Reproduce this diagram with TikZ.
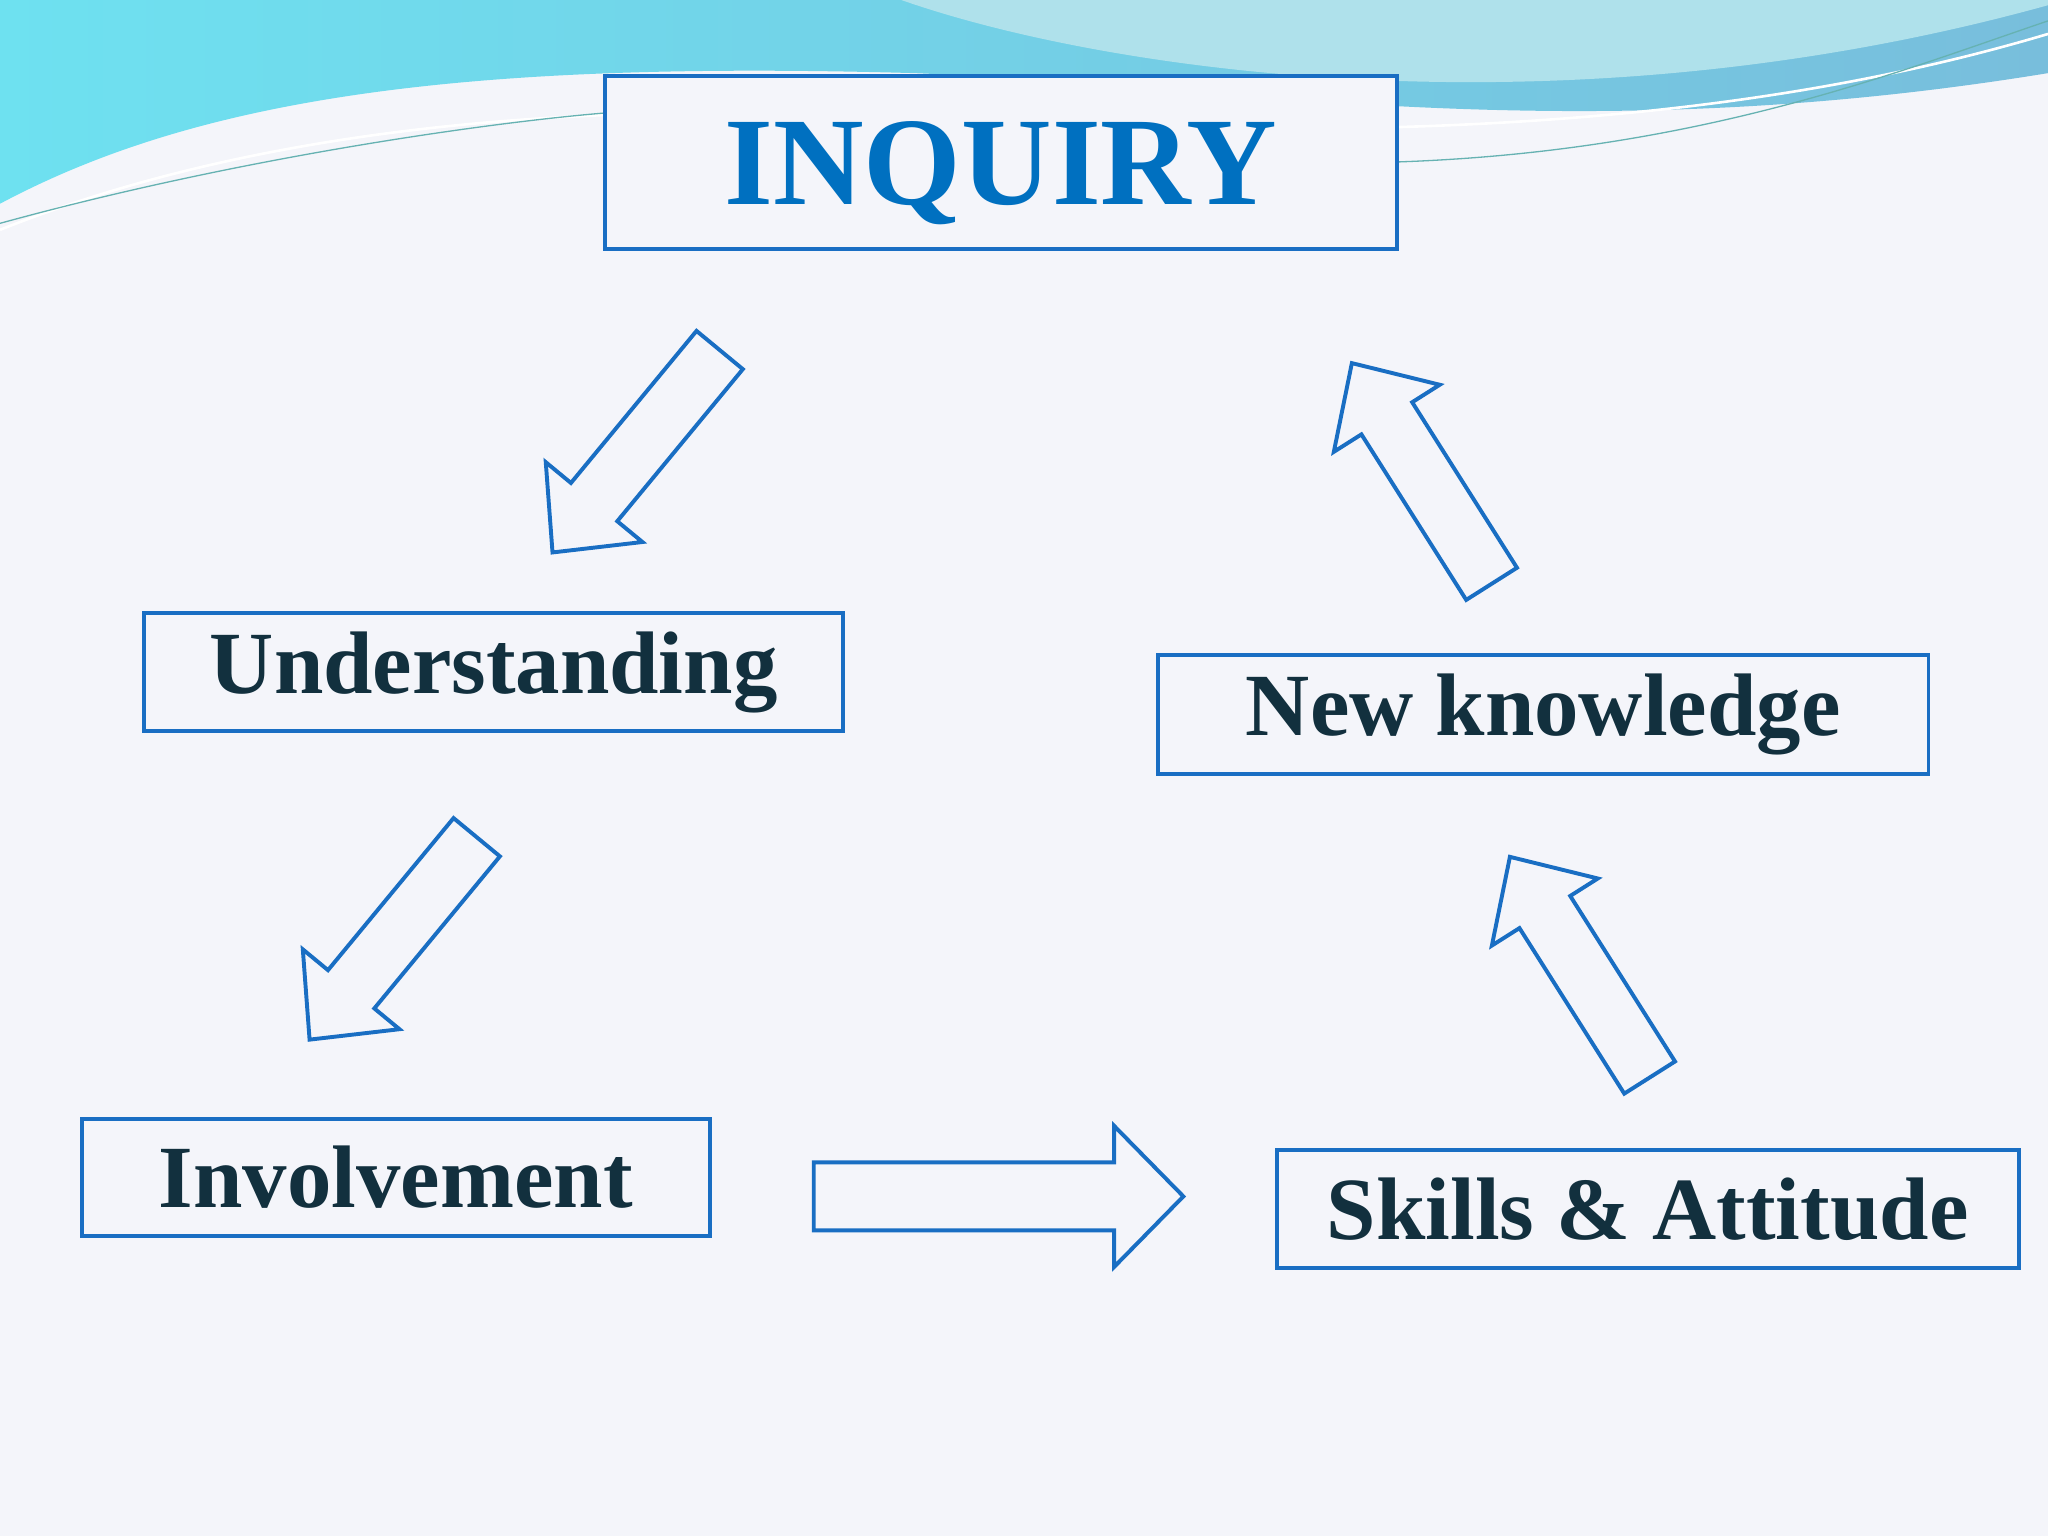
\documentclass[tikz,border=0pt]{standalone}
\usepackage{fontspec}
\setmainfont{Liberation Serif}
\definecolor{bg}{RGB}{244,245,250}
\definecolor{edge}{RGB}{25,110,195}
\definecolor{titleblue}{RGB}{0,112,192}
\definecolor{navy}{RGB}{18,48,62}
\definecolor{wave1}{RGB}{120,190,220}
\definecolor{wave2}{RGB}{110,225,240}
\definecolor{wave3}{RGB}{175,225,235}
\tikzset{
  box/.style={draw=edge,line width=3pt,fill=bg,inner sep=0pt},
  barrow/.style={draw=edge,line width=3pt,fill=bg,line join=miter},
  lbl/.style={font=\bfseries,text=navy},
}
\newcommand\blockarrow[3]{%
  \begin{scope}[shift={#1},rotate=#2]
    \draw[barrow] (0,-23)--(#3-50,-23)--(#3-50,-48)--(#3,0)--(#3-50,48)--(#3-50,23)--(0,23)--cycle;
  \end{scope}}
\begin{document}
\begin{tikzpicture}[x=1pt,y=1pt]
\fill[bg] (0,0) rectangle (1568,1176);
\useasboundingbox (0,0) rectangle (1568,1176);
% top waves
\shade[left color=wave2,right color=wave1] (0,1176) -- (0,1020) .. controls (150,1100) and (350,1130) .. (700,1120) .. controls (950,1110) and (1200,1060) .. (1568,1120) -- (1568,1176) -- cycle;
\fill[wave3] (690,1176) .. controls (850,1120) and (1200,1070) .. (1568,1172) -- (1568,1176) -- cycle;
\draw[white,line width=2pt] (0,1000) .. controls (200,1080) and (450,1100) .. (700,1085) .. controls (1000,1070) and (1300,1070) .. (1568,1150);
\draw[teal!60,line width=1pt] (0,1005) .. controls (200,1060) and (400,1085) .. (470,1090);
\draw[teal!60,line width=1pt] (1070,1052) .. controls (1300,1060) and (1450,1120) .. (1568,1160);
% boxes
\node[box,minimum width=606,minimum height=132,anchor=north west] (inq) at (462,1119) {};
\node[font=\bfseries,text=titleblue] at ([yshift=-8]inq.center) {\fontsize{96}{100}\selectfont INQUIRY};
\node[box,minimum width=535,minimum height=90,anchor=north west] (und) at (109,708) {};
\node[lbl] at (und) {\fontsize{68}{72}\selectfont Understanding};
\node[box,minimum width=590,minimum height=91,anchor=north west] (nk) at (885,676) {};
\node[lbl] at (nk) {\fontsize{68}{72}\selectfont New knowledge};
\node[box,minimum width=481,minimum height=90,anchor=north west] (inv) at (61,321) {};
\node[lbl] at (inv) {\fontsize{68}{72}\selectfont Involvement};
\node[box,minimum width=568,minimum height=90,anchor=north west] (ska) at (976,297) {};
\node[lbl] at (ska) {\fontsize{68}{72}\selectfont Skills \& Attitude};
% arrows
\blockarrow{(551,908)}{230.45}{201}
\blockarrow{(365,535)}{230.45}{201}
\begin{scope}[shift={(623,260)}]
  \draw[barrow] (0,-26)--(230,-26)--(230,-54)--(283,0)--(230,54)--(230,26)--(0,26)--cycle;
\end{scope}
\blockarrow{(1142,729)}{122.34}{200}
\blockarrow{(1263,351)}{122.34}{200}
\end{tikzpicture}
\end{document}
